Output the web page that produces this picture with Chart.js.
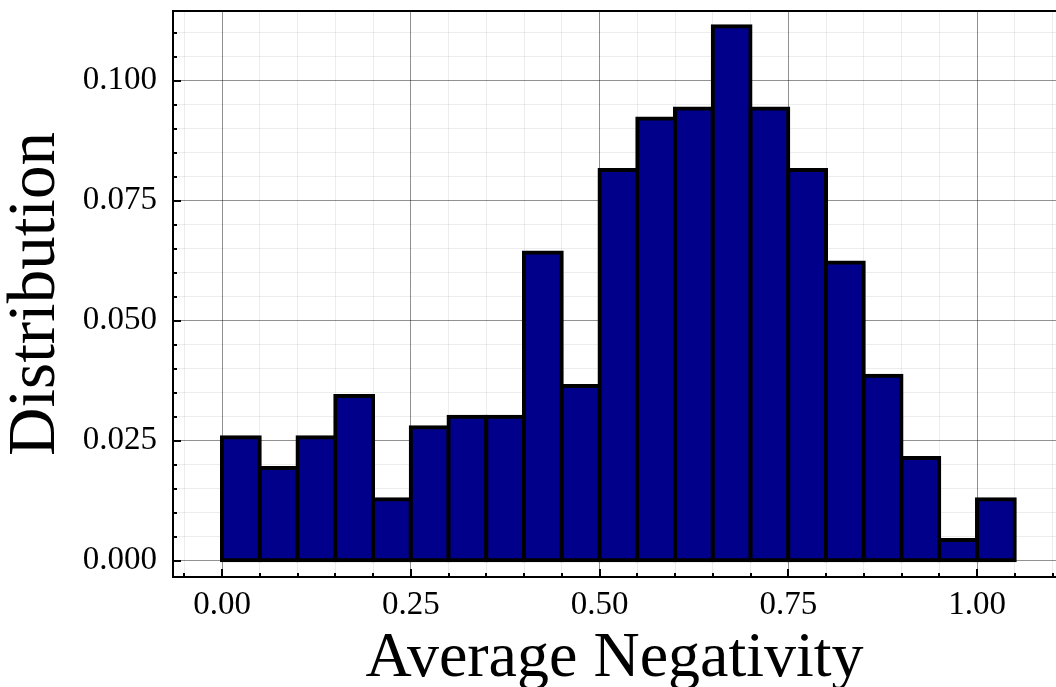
<!DOCTYPE html>
<html>
<head>
<meta charset="utf-8">
<title>Average Negativity</title>
<script src="https://cdn.jsdelivr.net/npm/chart.js@4/dist/chart.umd.min.js"></script>
<style>
  html, body { margin: 0; padding: 0; background: #fff; }
</style>
</head>
<body>
<canvas id="hist" width="1056" height="687"></canvas>
<script>
// histogram bins (left edge) and the share of samples in each bin
const binWidth = 0.05;
const binLeft = [0.00, 0.05, 0.10, 0.15, 0.20, 0.25, 0.30, 0.35, 0.40, 0.45, 0.50,
  0.55, 0.60, 0.65, 0.70, 0.75, 0.80, 0.85, 0.90, 0.95, 1.00];
const distribution = [0.0257, 0.0193, 0.0257, 0.0343, 0.0128, 0.0278, 0.0300, 0.0300, 0.0642, 0.0364, 0.0814,
  0.0921, 0.0942, 0.1113, 0.0942, 0.0814, 0.0621, 0.0385, 0.0214, 0.0043, 0.0128];

// labelled ticks; everything between them is a minor tick
const xTicks = [0.00, 0.25, 0.50, 0.75, 1.00];
const yTicks = [0.000, 0.025, 0.050, 0.075, 0.100];

const FONT = "'Liberation Serif', 'Times New Roman', serif";

const isMajor = (v, list) => list.some(t => Math.abs(t - v) < 1e-9);
const gridColor = list => ctx => (ctx.tick && isMajor(ctx.tick.value, list)) ? 'rgba(0,0,0,0.43)' : 'rgba(0,0,0,0.07)';

// top frame line + inward ticks
const framePlugin = {
  id: 'frame',
  afterDraw(chart) {
    const { ctx, chartArea: { left, right, top, bottom }, scales: { x, y } } = chart;
    ctx.save();
    ctx.strokeStyle = '#000';
    ctx.lineWidth = 2;
    ctx.beginPath();
    ctx.moveTo(left, top);
    ctx.lineTo(right, top);
    ctx.stroke();

    x.ticks.forEach(t => {
      const px = Math.round(x.getPixelForValue(t.value));
      const len = isMajor(t.value, xTicks) ? 8 : 4;
      ctx.beginPath();
      ctx.moveTo(px, bottom);
      ctx.lineTo(px, bottom - len);
      ctx.stroke();
    });
    y.ticks.forEach(t => {
      const py = Math.round(y.getPixelForValue(t.value));
      const len = isMajor(t.value, yTicks) ? 8 : 4;
      ctx.beginPath();
      ctx.moveTo(left, py);
      ctx.lineTo(left + len, py);
      ctx.stroke();
    });
    ctx.restore();
  }
};

new Chart(document.getElementById('hist'), {
  type: 'bar',
  data: {
    datasets: [{
      data: binLeft.map((l, i) => ({ x: l + binWidth / 2, y: distribution[i] })),
      backgroundColor: '#00008b',
      borderColor: '#000',
      borderWidth: 4,
      borderSkipped: false,
      inflateAmount: 2,
      barPercentage: 1,
      categoryPercentage: 1,
    }]
  },
  options: {
    responsive: false,
    animation: false,
    layout: { padding: { top: 11, right: 0, bottom: 0, left: 0 } },
    plugins: { legend: { display: false }, tooltip: { enabled: false } },
    scales: {
      x: {
        type: 'linear',
        offset: false,
        min: -0.0649,
        max: 1.1046,
        grid: { color: gridColor(xTicks), lineWidth: 1, drawTicks: false, offset: false },
        border: { color: '#000', width: 2 },
        ticks: {
          stepSize: 0.05,
          autoSkip: false,
          includeBounds: false,
          maxRotation: 0,
          padding: 9,
          color: '#000',
          font: { family: FONT, size: 33 },
          callback: v => isMajor(v, xTicks) ? v.toFixed(2) : ''
        },
        title: {
          display: true,
          text: 'Average Negativity',
          color: '#000',
          font: { family: FONT, size: 64, lineHeight: 0.875 },
          padding: { top: 0, bottom: 0 }
        },
        afterFit: s => { s.height = 110; s.paddingLeft = 0; s.paddingRight = 0; }
      },
      y: {
        type: 'linear',
        min: -0.0034,
        max: 0.1145,
        grid: { color: gridColor(yTicks), lineWidth: 1, drawTicks: false },
        border: { color: '#000', width: 2 },
        ticks: {
          stepSize: 0.005,
          autoSkip: false,
          includeBounds: false,
          padding: 16,
          color: '#000',
          font: { family: FONT, size: 33 },
          callback: v => isMajor(v, yTicks) ? v.toFixed(3) : ''
        },
        title: {
          display: true,
          text: 'Distribution',
          color: '#000',
          font: { family: FONT, size: 67, lineHeight: 1 },
          padding: { top: 3, bottom: 0 }
        },
        afterFit: s => { s.width = 173; s.paddingTop = 0; s.paddingBottom = 0; }
      }
    }
  },
  plugins: [framePlugin]
});
</script>
</body>
</html>
